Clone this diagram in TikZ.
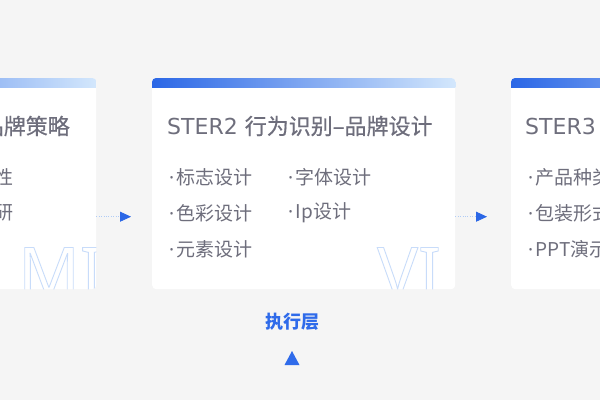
\documentclass[tikz,border=0pt]{standalone}
\usepackage{fontspec}
\setmainfont{Noto Sans CJK SC}
\newfontfamily\latinfont{Noto Sans}
\newfontfamily\ttlfont{Noto Sans CJK SC}[FakeBold=0.6]
\newfontfamily\stfont{DejaVu Sans}
\usetikzlibrary{arrows.meta}
\definecolor{bg}{HTML}{F5F5F5}
\definecolor{txt}{HTML}{6E6E7C}
\definecolor{blueA}{HTML}{2B67E6}
\definecolor{blueB}{HTML}{D3E7FC}
\definecolor{outl}{HTML}{C8DCFA}
\definecolor{dotl}{HTML}{B0CCF6}
\definecolor{execblue}{HTML}{2F6BEA}
\newcommand\outlinetext[1]{\special{pdf:code 1 Tr 0.9 w}#1\special{pdf:code 0 Tr}}
\newcommand\bul{{\latinfont ·}\hspace{2.5pt}}
\tikzset{
 card/.style={fill=white, rounded corners=4pt, minimum width=303pt, minimum height=211pt, inner sep=0pt, anchor=north west},
 ttl/.style={anchor=west, inner sep=0pt, text=txt, font=\ttlfont\fontsize{22}{26}\selectfont},
 item/.style={anchor=west, inner sep=0pt, text=txt, font=\fontsize{19}{22}\selectfont},
 big/.style={anchor=base west, inner sep=0pt, text=outl, font=\latinfont\fontsize{68}{70}\selectfont},
 conn/.style={dotl, line width=0.8pt, dash pattern=on 0.8pt off 1.6pt, -{Triangle[length=11pt,width=10pt,color=blueA]}},
 bar/.style={left color=blueA, right color=blueB},
}
\begin{document}
\begin{tikzpicture}[x=1pt,y=-1pt]
\useasboundingbox (0,0) rectangle (600,400);
\fill[bg] (0,0) rectangle (600,400);
\clip (0,0) rectangle (600,400);
% cards
\node[card] (c1) at (-207,78) {};
\node[card] (c2) at (152,78) {};
\node[card] (c3) at (511,78) {};
\foreach \c in {c1,c2,c3}{
 \begin{scope}
 \clip[rounded corners=4pt] (\c.north west) rectangle (\c.south east);
 \shade[bar] (\c.north west) rectangle ([yshift=-9pt]\c.north east);
 \end{scope}
}
% outline letters
\begin{scope}
\clip[rounded corners=4pt] (c1.north west) rectangle (c1.south east);
\node[big] (mi) at (18,296) {\outlinetext{MI}};
\end{scope}
\begin{scope}
\clip[rounded corners=4pt] (c2.north west) rectangle (c2.south east);
\node[big] (vi) at (377,296) {\outlinetext{VI}};
\end{scope}
% card 1 texts
\node[ttl, anchor=east] (t1) at (70,126) {品牌策略};
\node[item, anchor=east] (i11) at (14,177) {性};
\node[item, anchor=east] (i12) at (14,213) {研};
% card 2 texts
\node[ttl] (t2) at (167,126) {{\stfont STER2 }行为识别–品牌设计};
\node[item] (i21) at (169,177) {\bul 标志设计};
\node[item] (i22) at (169,213) {\bul 色彩设计};
\node[item] (i23) at (169,249) {\bul 元素设计};
\node[item] (i24) at (288,177) {\bul 字体设计};
\node[item] (i25) at (288,213) {\bul Ip设计};
% card 3 texts
\node[ttl] (t3) at (525,126) {{\stfont STER3}};
\node[item] (i31) at (528,177) {\bul 产品种类};
\node[item] (i32) at (528,213) {\bul 包装形式};
\node[item] (i33) at (528,249) {\bul PPT演示};
% connectors
\coordinate (ar1) at (131,216.7);
\coordinate (ar2) at (487,216.7);
\draw[conn] (c1.east |- ar1) -- (ar1);
\draw[conn] (c2.east |- ar2) -- (ar2);
% execution layer
\node[text=execblue, font=\bfseries\fontsize{18}{22}\selectfont, inner sep=0pt] (exec) at (292,322) {执行层};
\coordinate (tri) at (292,358);
\fill[execblue] ([xshift=-7.5pt,yshift=-7pt]tri) -- ([xshift=7.5pt,yshift=-7pt]tri) -- ([yshift=7pt]tri) -- cycle;
\end{tikzpicture}
\end{document}
